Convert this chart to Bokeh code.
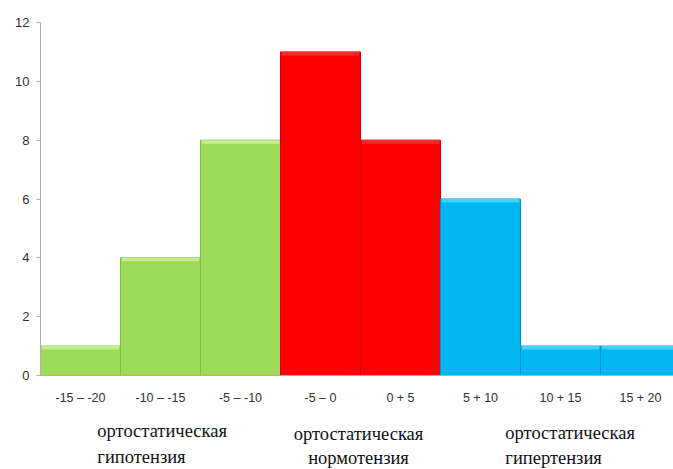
from bokeh.plotting import figure
from bokeh.models import Range1d, FixedTicker, Span
from bokeh.core.properties import value
from bokeh.embed import file_html
from bokeh.resources import INLINE

# Distribution of orthostatic blood-pressure change
categories = ["-15 – -20", "-10 – -15", "-5 – -10", "-5 – 0", "0 + 5", "5 + 10", "10 + 15", "15 + 20"]
counts = [1, 4, 8, 11, 8, 6, 1, 1]
groups = ["hypo", "hypo", "hypo", "normo", "normo", "hyper", "hyper", "hyper"]
group_titles = {
    "hypo": ["ортостатическая", "гипотензия"],
    "normo": ["ортостатическая", "нормотензия"],
    "hyper": ["ортостатическая", "гипертензия"],
}

fill = {"hypo": "#9CDB58", "normo": "#FF0000", "hyper": "#00B5F0"}
edge = {"hypo": "#7FB946", "normo": "#D40000", "hyper": "#0092C4"}
shine = {"hypo": "#C3EE8C", "normo": "#FF2A2A", "hyper": "#3DD5FF"}

xs = list(range(len(categories)))
fills = [fill[g] for g in groups]
edges = [edge[g] for g in groups]
shines = [shine[g] for g in groups]

# frame spans the full canvas height so the captions below the baseline stay visible
p = figure(width=673, height=469, output_backend="svg", toolbar_location=None,
           x_range=Range1d(-0.5, 7.4125), y_range=Range1d(-3.1955, 12.748),
           min_border_left=40, min_border_right=0, min_border_top=0, min_border_bottom=0,
           x_axis_location=None)
p.outline_line_color = None
p.grid.visible = False
p.background_fill_color = "white"
p.border_fill_color = "white"

p.vbar(x=xs, top=counts, width=1.0, fill_color=fills, line_color=edges, line_width=1)
# light bevel along the top of each bar
p.vbar(x=xs, top=counts, bottom=[c - 0.12 for c in counts], width=0.97,
       fill_color=shines, line_color=None)

# category axis baseline
p.add_layout(Span(location=0, dimension="width", line_color="#B0B0B0", line_width=1))

tick_font = "'Liberation Sans Narrow', 'Liberation Sans', sans-serif"

p.yaxis.bounds = (0, 12)
p.yaxis.ticker = FixedTicker(ticks=[0, 2, 4, 6, 8, 10, 12])
p.yaxis.axis_line_color = "#B0B0B0"
p.yaxis.major_tick_line_color = "#B0B0B0"
p.yaxis.major_tick_out = 4
p.yaxis.major_tick_in = 0
p.yaxis.minor_tick_line_color = None
p.yaxis.major_label_text_font = tick_font
p.yaxis.major_label_text_font_size = "13px"
p.yaxis.major_label_text_color = "#303030"
p.yaxis.major_label_standoff = 7

# category labels
p.text(x=xs, y=[-0.75] * len(xs), text=categories, text_align="center", text_baseline="middle",
       text_font=value(tick_font), text_font_size="12.5px", text_color="#303030")

serif = "'Liberation Serif', serif"
# group captions under the axis
placements = {
    "hypo": (0.21, "left", [-1.887, -2.754]),
    "normo": (3.475, "center", [-1.99, -2.80]),
    "hyper": (5.31, "left", [-1.96, -2.80]),
}
for g, (gx, align, ys) in placements.items():
    lines = group_titles[g]
    p.text(x=[gx] * len(lines), y=ys, text=lines, text_align=align, text_baseline="middle",
           text_font=value(serif), text_font_size="18.5px", text_color="#111111")

open("out.html", "w").write(file_html(p, INLINE))
